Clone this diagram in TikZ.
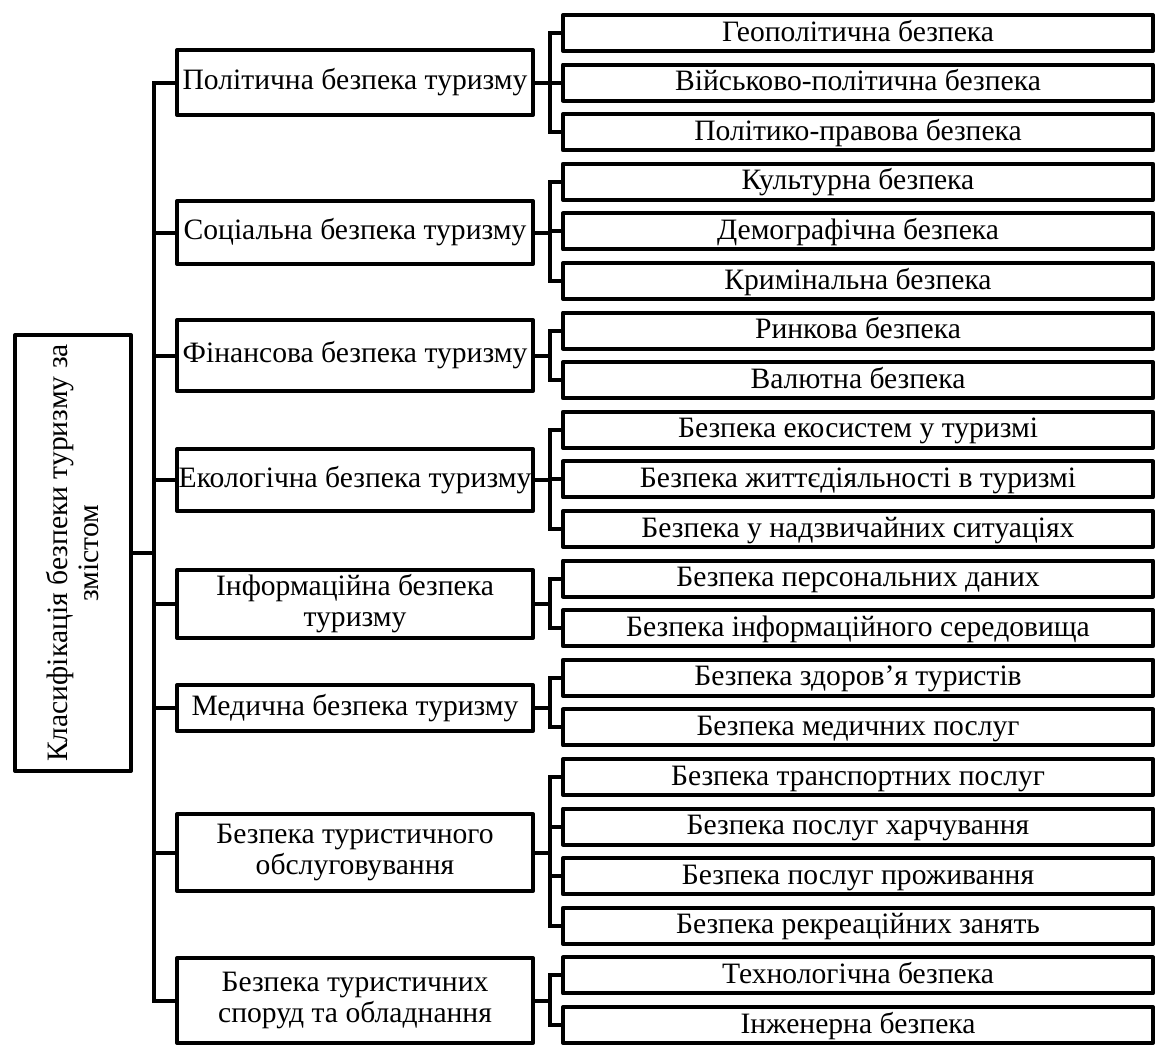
\documentclass[tikz,border=0pt]{standalone}
\usepackage{fontspec}
\setmainfont{Liberation Serif}
\begin{document}
\begin{tikzpicture}[x=0.5pt, y=-0.5pt,
        box/.style={draw, line width=2pt, line join=round, inner sep=0pt, outer sep=0pt, font=\fontsize{14.8}{15.5}\selectfont},
        topic/.style={box, align=center, minimum width=178pt},
        item/.style={box, minimum width=295pt, minimum height=18pt, text height=11pt, text depth=3pt},
        link/.style={line width=2pt}]
        \useasboundingbox (0,0) rectangle (1159,1045);
        \coordinate (trunk) at (153.5,0);
        \coordinate (fork) at (549.5,0);

        \node[box, rotate=90, align=center, minimum width=218pt, minimum height=58pt] (klas) at (73,553) {Класифікація безпеки туризму за\\змістом};

        \node[topic, minimum height=32.5pt] (pol) at (355,82.5)  {Політична безпека туризму};
        \node[topic, minimum height=31.5pt] (soc) at (355,232.5) {Соціальна безпека туризму};
        \node[topic, minimum height=35.5pt] (fin) at (355,355.5) {Фінансова безпека туризму};
        \node[topic, minimum height=31pt]   (eko) at (355,480)   {Екологічна безпека туризму};
        \node[topic, minimum height=34pt]   (inf) at (355,604)   {Інформаційна безпека\\туризму};
        \node[topic, minimum height=23pt]   (med) at (355,708)   {Медична безпека туризму};
        \node[topic, minimum height=38.5pt] (obs) at (355,852.5) {Безпека туристичного\\обслуговування};
        \node[topic, minimum height=42.5pt] (spo) at (355,1000.5) {Безпека туристичних\\споруд та обладнання};

        \node[item] (geo) at (858,33)    {Геополітична безпека};
        \node[item] (vij) at (858,82.6)  {Військово-політична безпека};
        \node[item] (pra) at (858,132.2) {Політико-правова безпека};
        \node[item] (kul) at (858,181.8) {Культурна безпека};
        \node[item] (dem) at (858,231.4) {Демографічна безпека};
        \node[item] (kri) at (858,281)   {Кримінальна безпека};
        \node[item] (rin) at (858,330.6) {Ринкова безпека};
        \node[item] (val) at (858,380.2) {Валютна безпека};
        \node[item] (eks) at (858,429.8) {Безпека екосистем у туризмі};
        \node[item] (zhy) at (858,479.4) {Безпека життєдіяльності в туризмі};
        \node[item] (nad) at (858,529)   {Безпека у надзвичайних ситуаціях};
        \node[item] (per) at (858,578.6) {Безпека персональних даних};
        \node[item] (ser) at (858,628.2) {Безпека інформаційного середовища};
        \node[item] (zdo) at (858,677.8) {Безпека здоров’я туристів};
        \node[item] (mps) at (858,727.4) {Безпека медичних послуг};
        \node[item] (tra) at (858,777)   {Безпека транспортних послуг};
        \node[item] (kha) at (858,826.6) {Безпека послуг харчування};
        \node[item] (pro) at (858,876.2) {Безпека послуг проживання};
        \node[item] (rek) at (858,925.8) {Безпека рекреаційних занять};
        \node[item] (tek) at (858,975.4) {Технологічна безпека};
        \node[item] (inz) at (858,1025)  {Інженерна безпека};

        \draw[link] (klas.south) -- (klas.south -| trunk);
        \draw[link] (pol.west) -- (pol.west -| trunk) |- (spo.west);
        \foreach \n in {soc,fin,eko,inf,med,obs}
            \draw[link] (\n.west) -- (\n.west -| trunk);

        \foreach \m/\a/\b in {pol/geo/pra, soc/kul/kri, fin/rin/val, eko/eks/nad, inf/per/ser, med/zdo/mps, obs/tra/rek, spo/tek/inz} {
            \draw[link] (\m.east) -- (\m.east -| fork);
            \draw[link] (\a.west) -- (\a.west -| fork) |- (\b.west);
        }
        \foreach \n in {vij,dem,zhy,kha,pro}
            \draw[link] (\n.west) -- (\n.west -| fork);
    \end{tikzpicture}
\end{document}
